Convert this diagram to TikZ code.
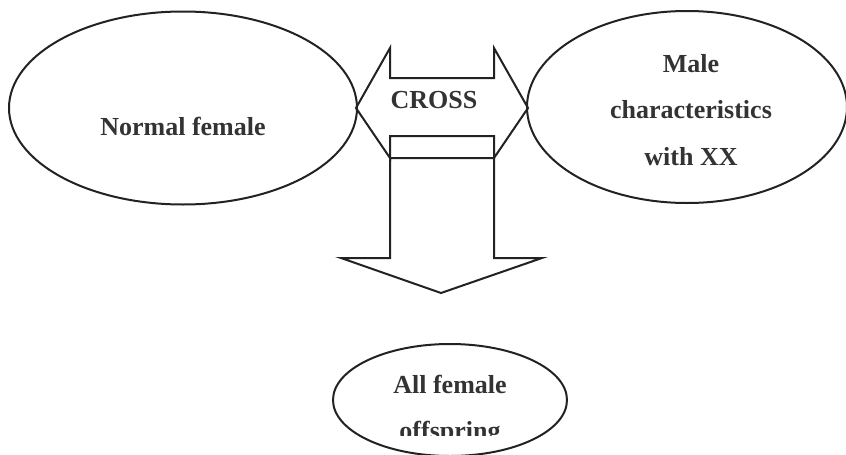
\documentclass[tikz,border=0pt]{standalone}
\usepackage{fontspec}
\setmainfont{Liberation Serif}
\usetikzlibrary{shapes.geometric,positioning,calc}
\definecolor{ink}{HTML}{222222}
\definecolor{txtgray}{HTML}{333333}
\tikzset{
  blob/.style={draw=ink,ellipse,line width=2pt,inner sep=0pt},
  blocky/.style={draw=ink,line width=2pt,line join=miter},
  words/.style={text=txtgray,font=\fontsize{26}{46}\selectfont\bfseries,anchor=base,inner sep=0pt}
}
\begin{document}
\begin{tikzpicture}[x=1pt,y=-1pt]
\useasboundingbox (0,0) rectangle (846,455);
% the three ovals
\node[blob,minimum width=348pt,minimum height=193pt] (female) at (183,108) {};
\node[blob,minimum width=320pt,minimum height=192pt] (male) at (687,107) {};
\node[blob,minimum width=234pt,minimum height=112pt] (offspring) at (450,400) {};

% cross arrow, both ways
\draw[blocky] (390,78) -- (494,78) -- (494,48) -- (528,108) -- (494,158) -- (494,136)
  -- (390,136) -- (390,158) -- (356,108) -- (390,48) -- cycle;
% down arrow
\draw[blocky] (390,158) -- (494,158) -- (494,258) -- (542,258) -- (441,293)
  -- (341,258) -- (390,258) -- cycle;

\node[words] (normal) at (183,135) {Normal female};
\node[words] (cross) at (434,108) {CROSS};
\node[words] (male1) at (691,72) {Male};
\node[words] (male2) at (691,118) {characteristics};
\node[words] (male3) at (691,165) {with XX};
\node[words] (all) at (450,393) {All female};
\begin{scope}
\clip (300,380) rectangle (600,435);
\node[words] (offspr) at (450,439) {offspring};
\end{scope}
\end{tikzpicture}
\end{document}
